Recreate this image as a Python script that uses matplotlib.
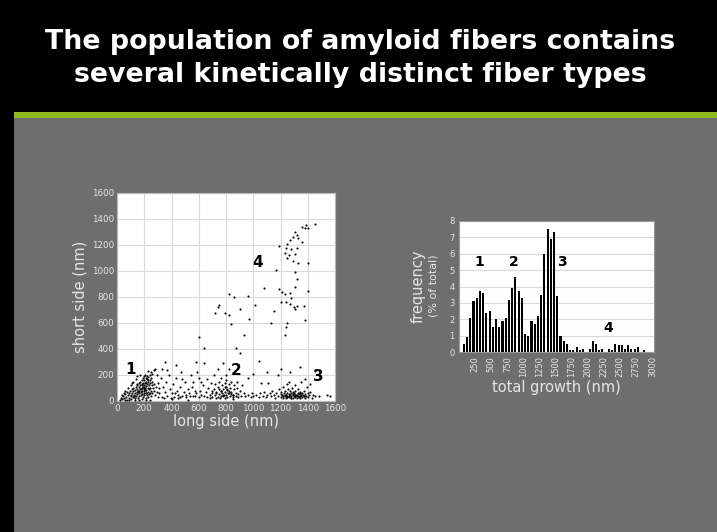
import numpy as np
import matplotlib
matplotlib.use("Agg")
import matplotlib.pyplot as plt
from matplotlib.patches import Rectangle

# Slide text
TITLE_LINES = ["The population of amyloid fibers contains",
               "several kinetically distinct fiber types"]

# Scatter: long side vs short side (nm)
cluster1_x = [20, 30, 40, 45, 55, 60, 65, 70, 75, 80, 85, 90, 95, 100, 100, 105, 110, 110, 115, 120,
              120, 125, 130, 130, 135, 140, 140, 145, 150, 150, 150, 155, 160, 160, 160, 165, 165, 170, 170, 170,
              175, 175, 180, 180, 180, 185, 185, 190, 190, 190, 190, 195, 195, 200, 200, 200, 200, 200, 205, 205,
              205, 210, 210, 210, 215, 215, 215, 220, 220, 220, 220, 225, 225, 230, 230, 230, 235, 235, 240, 240,
              240, 245, 245, 250, 250, 250, 255, 260, 260, 265, 270, 270, 275, 280, 280, 285, 290, 295, 300, 300,
              130, 90, 60, 160, 240, 180, 210, 150, 120, 100, 170, 260, 60, 80, 140, 110, 250, 230, 35, 50,
              145, 185, 225, 195, 175, 215, 155, 205, 235, 125]
cluster1_y = [10, 25, 15, 40, 20, 55, 30, 10, 70, 45, 25, 60, 80, 35, 15, 50, 90, 65, 30, 75,
              100, 45, 20, 60, 85, 110, 40, 70, 130, 95, 55, 25, 140, 80, 110, 60, 35, 120, 150, 90,
              70, 45, 160, 130, 100, 80, 55, 175, 140, 110, 30, 90, 65, 190, 160, 120, 75, 45, 200, 140,
              100, 180, 60, 20, 150, 115, 85, 195, 170, 130, 50, 100, 70, 185, 150, 30, 120, 90, 200, 160,
              60, 135, 100, 175, 80, 40, 120, 150, 60, 100, 240, 130, 80, 250, 50, 110, 200, 70, 140, 30,
              5, 5, 5, 10, 10, 15, 5, 190, 150, 120, 200, 210, 80, 100, 170, 140, 220, 230, 50, 65,
              120, 125, 165, 105, 95, 60, 75, 85, 55, 35]

middle_x = [310, 320, 330, 340, 350, 355, 360, 370, 380, 390, 400, 410, 420, 430, 430, 440, 450, 460, 470, 480,
            490, 500, 510, 520, 530, 540, 550, 560, 570, 580, 590, 600, 310, 330, 370, 450, 520, 400, 480, 345,
            395, 465, 535, 575, 425, 505]
middle_y = [60, 180, 30, 110, 300, 70, 150, 40, 200, 90, 60, 130, 30, 280, 180, 80, 50, 110, 220, 40,
            70, 150, 30, 90, 60, 200, 110, 150, 80, 300, 220, 180, 100, 250, 240, 20, 10, 15, 170, 20,
            25, 30, 40, 35, 60, 45]

cluster2_x = [560, 580, 600, 610, 620, 630, 640, 650, 660, 670, 680, 690, 700, 700, 710, 720, 720, 730, 740, 740,
              750, 750, 760, 760, 770, 770, 780, 780, 790, 790, 800, 800, 800, 810, 810, 820, 820, 830, 830, 840,
              840, 850, 850, 860, 860, 870, 870, 880, 890, 890, 900, 910, 920, 930, 940, 960, 980, 680, 730, 790,
              850, 620, 660, 710, 760, 800, 880, 765, 785, 805, 825, 745, 815, 795, 835, 775, 725, 695, 855, 755]
cluster2_y = [40, 60, 30, 80, 50, 120, 40, 70, 30, 100, 50, 140, 60, 30, 90, 45, 130, 70, 30, 110,
              55, 150, 80, 40, 120, 60, 35, 95, 140, 70, 50, 110, 160, 30, 85, 60, 130, 40, 100, 70,
              150, 50, 30, 90, 120, 40, 65, 100, 30, 55, 80, 40, 120, 60, 35, 50, 30, 20, 20, 20,
              15, 150, 170, 200, 180, 200, 150, 75, 50, 95, 80, 90, 65, 105, 55, 45, 60, 75, 45, 25]

cluster3_x = [990, 1000, 1020, 1040, 1050, 1060, 1070, 1080, 1090, 1100, 1110, 1120, 1130, 1140, 1150, 1160, 1170,
              1180, 1190, 1200, 1200, 1205, 1210, 1215, 1220, 1225, 1230, 1235, 1240, 1240, 1245, 1250, 1250,
              1255, 1260, 1260, 1265, 1270, 1270, 1275, 1280, 1280, 1285, 1290, 1290, 1295, 1300, 1300, 1305,
              1310, 1310, 1315, 1320, 1320, 1325, 1330, 1330, 1335, 1340, 1340, 1345, 1350, 1350, 1355, 1360,
              1365, 1370, 1375, 1380, 1380, 1390, 1395, 1400, 1405, 1410, 1420, 1430, 1440, 1450, 1480, 1540,
              1560, 1420, 1380, 1230, 1260, 1290, 1320, 1350, 1250, 1310, 1340, 1370, 1280, 1215, 1305, 1335]
cluster3_y = [60, 40, 50, 30, 60, 140, 40, 70, 30, 50, 140, 60, 35, 80, 45, 25, 60,
              40, 90, 30, 55, 70, 45, 20, 110, 60, 35, 80, 50, 25, 130, 65, 40,
              95, 30, 55, 150, 45, 75, 20, 60, 35, 100, 50, 70, 25, 40, 60, 120,
              30, 80, 50, 45, 20, 65, 35, 90, 55, 40, 25, 70, 50, 150, 30, 60,
              45, 80, 35, 55, 20, 40, 110, 60, 30, 45, 70, 25, 50, 35, 40, 50,
              40, 130, 170, 45, 40, 55, 35, 45, 30, 50, 60, 40, 25, 35, 45, 30]

upper_x = [1450, 1390, 1380, 1400, 1360, 1310, 1320, 1290, 1330, 1270, 1360, 1250, 1240, 1190, 1280, 1320,
           1230, 1260, 1310, 1250, 1290, 1330, 1400, 1170, 1310, 1320, 1310, 1080, 1190, 1210, 1400, 1230,
           1270, 1280, 1200, 1240, 1270, 1300, 1320, 1310, 1370, 1150, 1380, 1130, 1250, 1240, 1230,
           820, 860, 960, 1010, 750, 740, 720, 790, 820, 900, 970, 840, 930, 600, 640, 870, 900, 1040,
           1000, 1100, 1200, 1270, 1340, 1450, 820, 740, 780, 640, 1180, 960]
upper_y = [1360, 1350, 1330, 1330, 1340, 1300, 1280, 1260, 1250, 1240, 1220, 1210, 1180, 1190, 1170, 1180,
           1140, 1120, 1130, 1100, 1080, 1060, 1060, 1010, 990, 940, 880, 870, 860, 840, 850, 820,
           830, 790, 760, 760, 750, 720, 730, 710, 730, 690, 620, 600, 600, 570, 510,
           820, 800, 810, 740, 740, 720, 680, 680, 660, 710, 630, 590, 510, 490, 410, 410, 370, 310,
           210, 220, 250, 220, 260, 230, 250, 250, 290, 290, 200, 180]

scatter_labels = ["1", "2", "3", "4"]
scatter_label_x = [100, 875, 1474, 1030]
scatter_label_y = [244, 236, 185, 1069]

# Histogram: total growth, 50 nm bins (bin centres from 75 nm)
bin_centers = list(range(75, 2876, 50))
frequency = [0.5, 0.9, 2.1, 3.1, 3.3, 3.7, 3.6, 2.4, 2.5, 1.5,
             2.0, 1.5, 1.9, 2.1, 3.2, 3.9, 4.6, 3.7, 3.3, 1.1,
             1.0, 1.9, 1.7, 2.2, 3.5, 6.0, 7.5, 6.9, 7.3, 3.4,
             1.0, 0.7, 0.5, 0.1, 0.1, 0.3, 0.15, 0.2, 0.0, 0.2,
             0.7, 0.5, 0.1, 0.2, 0.0, 0.2, 0.1, 0.5, 0.4, 0.4,
             0.2, 0.4, 0.2, 0.2, 0.3, 0.0, 0.1]
hist_labels = ["1", "2", "3", "4"]
hist_label_x = [312, 844, 1604, 2318]
hist_label_y = [5.47, 5.47, 5.47, 1.46]

W, H = 717, 532
BODY_GRAY = "#6e6e6e"
TXT_LIGHT = "#e6e6e6"

fig = plt.figure(figsize=(W / 100, H / 100), dpi=100)
fig.patch.set_facecolor(BODY_GRAY)

# header, green rule and left black strip
fig.patches.append(Rectangle((0, 1 - 112 / H), 1, 112 / H, transform=fig.transFigure,
                             facecolor="black", edgecolor="none", zorder=0))
fig.patches.append(Rectangle((0, 1 - 118 / H), 1, 6 / H, transform=fig.transFigure,
                             facecolor="#8cb820", edgecolor="none", zorder=0))
fig.patches.append(Rectangle((0, 0), 14 / W, 1, transform=fig.transFigure,
                             facecolor="black", edgecolor="none", zorder=0))

for i, line in enumerate(TITLE_LINES):
    fig.text(360 / W, 1 - (42 + 33 * i) / H, line, color="white", fontsize=19.3,
             fontweight="bold", ha="center", va="center")

# ---- scatter plot ----
ax1 = fig.add_axes([117 / W, 1 - 401 / H, 218 / W, 208 / H])
ax1.set_facecolor("white")
xs = cluster1_x + middle_x + cluster2_x + cluster3_x + upper_x
ys = cluster1_y + middle_y + cluster2_y + cluster3_y + upper_y
ax1.scatter(xs, ys, s=2.3, c="black", linewidths=0, zorder=3)
ax1.set_xlim(0, 1600)
ax1.set_ylim(0, 1600)
ax1.set_xticks(range(0, 1601, 200))
ax1.set_yticks(range(0, 1601, 200))
ax1.grid(True, color="#d9d9d9", linewidth=0.8, zorder=0)
ax1.tick_params(length=0, labelsize=6.3, colors=TXT_LIGHT, pad=2)
for sp in ax1.spines.values():
    sp.set_color("#bbbbbb")
ax1.set_xlabel("long side (nm)", color=TXT_LIGHT, fontsize=10.5, labelpad=1)
ax1.set_ylabel("short side (nm)", color=TXT_LIGHT, fontsize=10.5, labelpad=3)
for lab, lx, ly in zip(scatter_labels, scatter_label_x, scatter_label_y):
    ax1.text(lx, ly, lab, fontsize=11, fontweight="bold", color="black",
             ha="center", va="center", zorder=4)

# ---- histogram ----
ax2 = fig.add_axes([459 / W, 1 - 352 / H, 195 / W, 131 / H])
ax2.set_facecolor("white")
ax2.bar(bin_centers, frequency, width=32, color="black", zorder=3)
ax2.set_xlim(0, 3025)
ax2.set_ylim(0, 8)
ax2.set_xticks(range(250, 3001, 250))
ax2.set_xticklabels([str(v) for v in range(250, 3001, 250)], rotation=90)
ax2.set_yticks(range(0, 9))
ax2.grid(True, axis="y", color="#d9d9d9", linewidth=0.8, zorder=0)
ax2.tick_params(length=0, labelsize=6, colors=TXT_LIGHT, pad=3)
for sp in ax2.spines.values():
    sp.set_color("#999999")
ax2.set_xlabel("total growth (nm)", color=TXT_LIGHT, fontsize=10.5, labelpad=2)
fig.text(418 / W, 1 - 286 / H, "frequency", rotation=90, color=TXT_LIGHT,
         fontsize=10.5, ha="center", va="center")
fig.text(433 / W, 1 - 286 / H, "(% of total)", rotation=90, color=TXT_LIGHT,
         fontsize=8, ha="center", va="center")
for lab, lx, ly in zip(hist_labels, hist_label_x, hist_label_y):
    ax2.text(lx, ly, lab, fontsize=10, fontweight="bold", color="black",
             ha="center", va="center", zorder=4)

fig.savefig("out.png", dpi=100, facecolor=fig.get_facecolor())
